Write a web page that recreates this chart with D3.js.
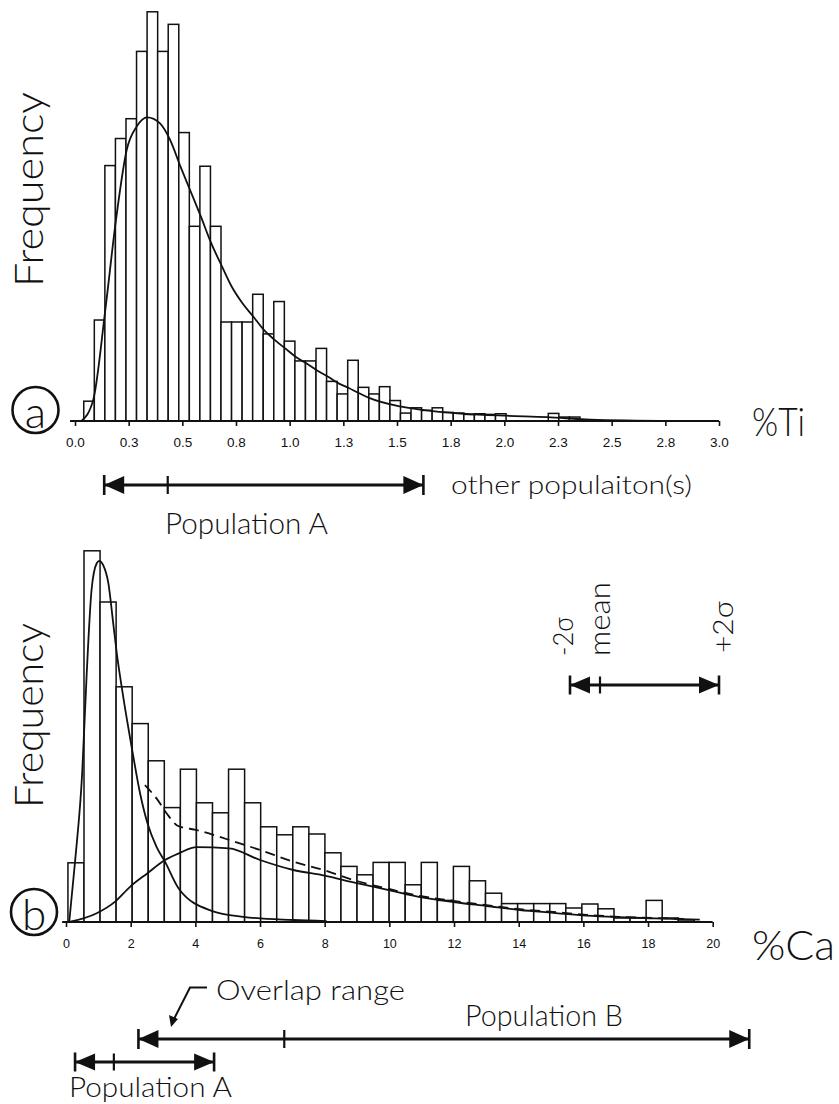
<!DOCTYPE html>
<html>
<head>
<meta charset="utf-8">
<script src="https://cdn.jsdelivr.net/npm/d3@7/dist/d3.min.js"></script>
<style>
  html, body { margin: 0; padding: 0; background: #fff; }
  svg { display: block; }
  .big { font-family: Lato, "Noto Sans", sans-serif; font-weight: 300; fill: #111; }
  .tick text { font-family: "Liberation Sans", Arial, sans-serif; fill: #111; }
</style>
</head>
<body>
<div id="chart"></div>
<script>
const W = 839, H = 1104;

// ---- panel (a): %Ti histogram ----
const tiBinStart = 0.0408, tiBinWidth = 3 / 61;
const tiFreq = [3.0, 15.3, 38.7, 42.8, 45.8, 56.0, 62.0, 56.0, 60.1, 43.7,
                29.5, 38.6, 29.5, 15.0, 15.0, 15.0, 19.2, 13.2, 18.1, 12.1,
                9.1, 9.1, 11.0, 6.0, 4.1, 9.2, 5.1, 4.1, 5.2, 3.1,
                1.2, 2.0, 1.6, 2.0, 1.3, 1.2, 1.0, 1.1, 1.0, 1.1,
                0, 0, 0, 0, 1.15, 0.6, 0.6];
// fitted distribution (x = %Ti, y = frequency)
const tiFit = [[0.03, 0], [0.085, 3.2], [0.141, 16.8], [0.191, 30.5], [0.241, 41.1],
               [0.287, 44.6], [0.337, 46.0], [0.396, 45.1], [0.443, 42.6], [0.492, 38.5],
               [0.536, 35.0], [0.586, 31.0], [0.635, 26.9], [0.685, 23.4], [0.731, 20.3],
               [0.781, 17.8], [0.831, 15.8], [0.880, 13.8], [0.930, 12.3], [0.979, 11.0],
               [1.029, 9.7], [1.079, 8.7], [1.126, 7.7], [1.179, 6.7], [1.228, 5.7],
               [1.275, 5.0], [1.324, 4.2], [1.37, 3.5], [1.514, 2.2], [1.667, 1.5],
               [1.81, 1.1], [2.01, 0.8], [2.2, 0.6], [2.4, 0.2], [2.79, 0]];
const tiTicks = [0, 0.25, 0.5, 0.75, 1.0, 1.25, 1.5, 1.75, 2.0, 2.25, 2.5, 2.75, 3.0];
const tiTickLabels = ['0.0', '0.3', '0.5', '0.8', '1.0', '1.3', '1.5', '1.8', '2.0', '2.3', '2.5', '2.8', '3.0'];
const tiPopA = {lo: 0.136, mean: 0.432, hi: 1.623};

// ---- panel (b): %Ca histogram ----
const caBinStart = 0.06, caBinWidth = 0.4967;
const caFreq = [14.8, 92.8, 80.0, 58.8, 49.6, 40.3, 28.6, 38.2, 29.8, 27.3,
                38.2, 29.8, 23.8, 21.8, 23.8, 22.0, 17.3, 13.9, 11.8, 14.9,
                14.9, 9.3, 14.9, 5.4, 13.9, 10.3, 7.2, 4.6, 4.6, 4.6,
                4.6, 3.5, 4.5, 3.3, 1.0, 1.0, 5.4, 1.0, 0.5];
const caPopAFit = [[0.1, 0], [0.28, 15.1], [0.5, 37.2], [0.64, 62], [0.79, 83], [0.95, 89.7],
                   [1.03, 90.3], [1.15, 89.2], [1.31, 84.7], [1.46, 74.7], [1.57, 67.2],
                   [1.77, 56.3], [2.03, 43.8], [2.29, 32.2], [2.52, 24.7], [2.8, 18.8],
                   [3.06, 15.1], [3.5, 8.2], [4.5, 2.8], [5.48, 1.3], [7.03, 0.5], [8.06, 0.2]];
const caPopBFit = [[0.1, 0], [0.95, 2.2], [1.52, 5.1], [1.98, 8.8], [2.52, 12.2], [3.06, 15.5],
                   [3.5, 17.2], [4.04, 18.7], [5.05, 18.4], [6.0, 15.5], [7.03, 13.0],
                   [8.0, 11.6], [8.89, 9.9], [10.02, 7.9], [10.95, 6.2], [11.98, 5.0],
                   [13.01, 4.0], [14.04, 3.0], [15.07, 2.3], [16.1, 1.6], [17.1, 1.2],
                   [18.2, 0.9], [19.6, 0.6]];
const caSumFit = [[2.44, 34.2], [2.8, 30.9], [3.11, 27.2], [3.47, 24], [4.04, 23], [5.05, 20.5],
                  [6.0, 18], [7.03, 15.1], [8.0, 12.9], [8.89, 10.5], [10.02, 8.2], [10.95, 6.5],
                  [11.98, 5.3], [13.01, 4.2], [14.04, 3.2], [15.07, 2.5], [16.1, 1.8],
                  [17.1, 1.3], [18.2, 1.0], [19.3, 0.7]];
const caTicks = [0, 2, 4, 6, 8, 10, 12, 14, 16, 18, 20];
const caTickLabels = caTicks.map(String);
const caPopA = {lo: 0.28, mean: 1.48, hi: 4.58};
const caPopB = {lo: 2.24, mean: 6.75, hi: 21.13};

const svg = d3.select('#chart').append('svg')
  .attr('width', W).attr('height', H);

const xTi = d3.scaleLinear().domain([0, 3]).range([75, 719]);
const yTi = d3.scaleLinear().domain([0, 62]).range([421, 421 - 62 * 6.6]);
const xCa = d3.scaleLinear().domain([0, 20]).range([66, 712.7]);
const yCa = d3.scaleLinear().domain([0, 100]).range([922, 522]);

const drawHist = (freq, start, width, x, y) => {
  const bins = freq.map((f, i) => ({x0: start + i * width, x1: start + (i + 1) * width, f}))
    .filter(b => b.f > 0);
  svg.append('g').selectAll('rect').data(bins).join('rect')
    .attr('x', d => x(d.x0))
    .attr('y', d => y(d.f))
    .attr('width', d => x(d.x1) - x(d.x0))
    .attr('height', d => y(0) - y(d.f))
    .attr('fill', '#fff')
    .attr('stroke', '#111')
    .attr('stroke-width', 1.5);
};

const drawCurve = (pts, x, y, dash) => {
  const line = d3.line().x(d => x(d[0])).y(d => y(d[1])).curve(d3.curveMonotoneX);
  svg.append('path').datum(pts)
    .attr('d', line)
    .attr('fill', 'none')
    .attr('stroke', '#111')
    .attr('stroke-width', 1.8)
    .attr('stroke-dasharray', dash || null);
};

const drawAxis = (x, y0, ticks, labels, from, fontSize, pad) => {
  const g = svg.append('g').attr('transform', `translate(0,${y0})`)
    .call(d3.axisBottom(x).tickValues(ticks).tickFormat((d, i) => labels[i])
      .tickSize(5).tickPadding(pad).tickSizeOuter(0));
  g.select('.domain').remove();
  g.selectAll('.tick line').attr('stroke', '#111').attr('stroke-width', 1.6);
  g.selectAll('.tick text').attr('font-size', fontSize);
  g.append('line')
    .attr('x1', x(from)).attr('x2', x(ticks[ticks.length - 1]))
    .attr('stroke', '#111').attr('stroke-width', 2);
};

// range arrow with filled heads, end bars and a mean tick
const rangeArrow = (x1, xm, x2, y, half) => {
  const g = svg.append('g').attr('stroke', '#111').attr('fill', '#111');
  const hl = 20;
  g.append('line').attr('x1', x1).attr('x2', x2).attr('y1', y).attr('y2', y).attr('stroke-width', 3);
  [x1, x2].forEach(xx => g.append('line').attr('x1', xx).attr('x2', xx)
    .attr('y1', y - half - 1).attr('y2', y + half + 1).attr('stroke-width', 2.6));
  g.append('line').attr('x1', xm).attr('x2', xm)
    .attr('y1', y - half).attr('y2', y + half).attr('stroke-width', 2.2);
  g.append('path').attr('stroke', 'none')
    .attr('d', `M${x1},${y} L${x1 + hl},${y - half} L${x1 + hl},${y + half} Z`);
  g.append('path').attr('stroke', 'none')
    .attr('d', `M${x2},${y} L${x2 - hl},${y - half} L${x2 - hl},${y + half} Z`);
};

const label = (txt, x, y, size, len, rot) => {
  const t = svg.append('text').attr('class', 'big')
    .attr('transform', `translate(${x},${y})` + (rot ? ` rotate(${rot})` : ''))
    .attr('font-size', size)
    .text(txt);
  if (len) t.attr('textLength', len).attr('lengthAdjust', 'spacingAndGlyphs');
  return t;
};

const circleLabel = (txt, cx, cy) => {
  svg.append('circle').attr('cx', cx).attr('cy', cy).attr('r', 23)
    .attr('fill', 'none').attr('stroke', '#111').attr('stroke-width', 2.6);
  svg.append('text').attr('class', 'big')
    .attr('x', cx).attr('y', cy + 1).attr('text-anchor', 'middle')
    .attr('dominant-baseline', 'central').attr('font-size', 44)
    .text(txt);
};

// panel (a)
drawHist(tiFreq, tiBinStart, tiBinWidth, xTi, yTi);
drawCurve(tiFit, xTi, yTi);
drawAxis(xTi, 421, tiTicks, tiTickLabels, -0.023, 13.5, 11);
label('Frequency', 43, 287, 39, 195, -90);
circleLabel('a', 35.5, 410);
label('%Ti', 752, 436, 40, 53);
rangeArrow(xTi(tiPopA.lo), xTi(tiPopA.mean), xTi(tiPopA.hi), 485, 9);
label('Population A', 165, 534, 29, 163);
label('other populaiton(s)', 451, 494, 26, 241);

// panel (b)
drawHist(caFreq, caBinStart, caBinWidth, xCa, yCa);
drawCurve(caPopAFit, xCa, yCa);
drawCurve(caPopBFit, xCa, yCa);
drawCurve(caSumFit, xCa, yCa, '10,6');
drawAxis(xCa, 922, caTicks, caTickLabels, -0.12, 12.5, 12);
label('Frequency', 43, 808, 39, 185, -90);
circleLabel('b', 34, 912);
label('%Ca', 752, 960, 41, 83);

// sigma legend
rangeArrow(570, 600, 719, 685, 8.5);
label('-2σ', 573, 656, 28, 39, -90);
label('mean', 610, 656, 29, 74, -90);
label('+2σ', 733, 653, 28, 52, -90);

// population ranges
rangeArrow(xCa(caPopB.lo), xCa(caPopB.mean), xCa(caPopB.hi), 1039, 9);
rangeArrow(xCa(caPopA.lo), xCa(caPopA.mean), xCa(caPopA.hi), 1062, 8.5);
label('Population B', 465, 1026, 29, 158);
label('Population A', 69, 1097, 28, 163);
label('Overlap range', 216, 1000, 28, 189);

// overlap leader with arrow head
svg.append('path')
  .attr('d', 'M207,987.5 L190,987.5 L174,1019')
  .attr('fill', 'none').attr('stroke', '#111').attr('stroke-width', 2);
svg.append('path')
  .attr('d', 'M171,1027 L169,1015 L178,1019 Z')
  .attr('fill', '#111');
</script>
</body>
</html>
